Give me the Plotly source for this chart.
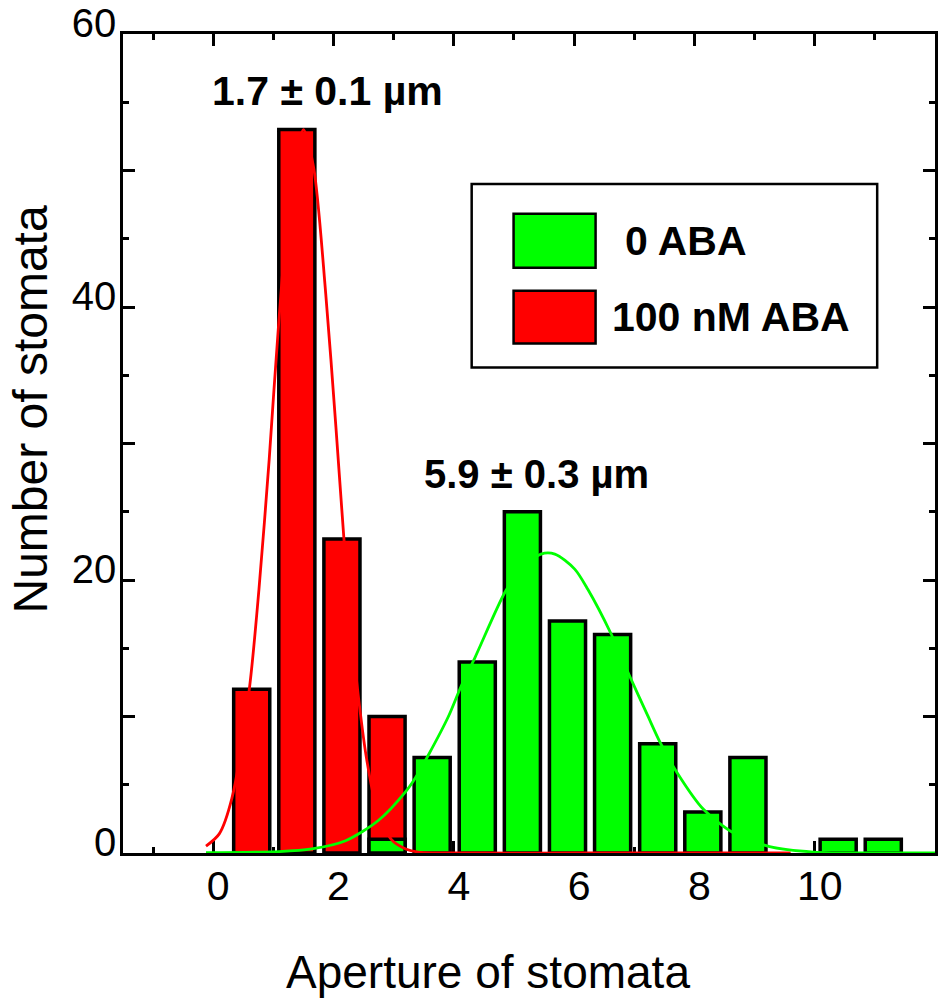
import plotly.graph_objects as go

# ---------------- data ----------------
bin_centers = [0.64, 1.39, 2.14, 2.89, 3.64, 4.39, 5.14, 5.89, 6.64, 7.39, 8.14, 8.89, 9.64, 10.39, 11.14]
red_counts = [12, 53, 23, 10, 0, 0, 0, 0, 0, 0, 0, 0, 0, 0, 0]
green_counts = [0, 0, 0, 1, 7, 14, 25, 17, 16, 8, 3, 7, 0, 1, 1]

red_fit_x = [-0.12, 0.10, 0.31, 0.60, 0.76, 0.93, 1.09, 1.30, 1.50, 1.67, 1.87, 2.04, 2.17, 2.30,
             2.45, 2.55, 2.70, 2.96, 3.20, 3.41, 4.5, 6.0, 8.0, 9.6]
red_fit_y = [0.5, 1.4, 4.0, 12.0, 19.3, 28.8, 38.9, 49.2, 53.0, 50.2, 41.0, 31.2, 23.2, 16.2,
             10.1, 6.9, 3.6, 1.0, 0.3, 0.07, 0, 0, 0, 0]

green_fit_x = [-0.12, 1.09, 1.64, 2.20, 2.75, 3.20, 3.36, 3.58, 3.91, 4.12, 4.35, 4.85, 5.10, 5.45,
               5.68, 6.01, 6.23, 6.61, 6.94, 7.22, 7.43, 7.71, 8.15, 8.66, 9.25, 9.98, 11.0, 12.0]
green_fit_y = [0.02, 0.1, 0.3, 0.9, 2.4, 4.5, 5.5, 7.2, 10.0, 12.2, 14.3, 19.1, 20.7, 21.9,
               21.9, 20.8, 19.3, 16.1, 12.8, 10.1, 8.1, 5.9, 3.2, 1.45, 0.47, 0.07, 0, 0]

series_names = ["0 ABA", "100 nM ABA"]
series_colors = ["#00FF00", "#FF0000"]
mean_labels = ["1.7 \u00b1 0.1 \u00b5m", "5.9 \u00b1 0.3 \u00b5m"]

x_tick_vals = [0, 2, 4, 6, 8, 10]
x_tick_text = ["0", "2", "4", "6", "8", "10"]
y_tick_vals = [0, 10, 20, 30, 40, 50, 60]
y_tick_text = ["0", "", "20", "", "40", "", "60"]

x_title = "Aperture of stomata"
y_title = "Number of stomata"

FONT = "Liberation Sans, Arial, sans-serif"

# ---------------- figure ----------------
fig = go.Figure()

rx = [x for x, c in zip(bin_centers, red_counts) if c > 0]
ry = [c for c in red_counts if c > 0]
gx = [x for x, c in zip(bin_centers, green_counts) if c > 0]
gy = [c for c in green_counts if c > 0]

fig.add_trace(go.Bar(x=rx, y=ry, width=0.6, name=series_names[1],
                     marker=dict(color=series_colors[1], line=dict(color="black", width=3.5))))
fig.add_trace(go.Bar(x=gx, y=gy, width=0.6, name=series_names[0],
                     marker=dict(color=series_colors[0], line=dict(color="black", width=3.5))))

fig.add_trace(go.Scatter(x=red_fit_x, y=red_fit_y, mode="lines",
                         line=dict(color=series_colors[1], width=2.8, shape="spline", smoothing=0.8),
                         hoverinfo="skip"))
fig.add_trace(go.Scatter(x=green_fit_x, y=green_fit_y, mode="lines",
                         line=dict(color=series_colors[0], width=2.8, shape="spline", smoothing=0.8),
                         hoverinfo="skip"))

fig.update_layout(
    width=939, height=1002,
    margin=dict(l=123, r=1, t=33, b=149),
    plot_bgcolor="white", paper_bgcolor="white",
    showlegend=False, barmode="overlay",
    font=dict(family=FONT, color="black"),
)

fig.update_xaxes(
    range=[-1.5, 12], showline=True, linecolor="black", linewidth=2.5, mirror="allticks",
    ticks="inside", ticklen=12, tickwidth=2.5, tickcolor="black",
    tickvals=x_tick_vals, ticktext=x_tick_text, tickfont=dict(size=41, family=FONT, color="black"),
    showgrid=False, zeroline=False, layer="below traces",
    minor=dict(ticks="inside", dtick=1, tick0=0, ticklen=6, tickwidth=2.5, tickcolor="black", showgrid=False),
    ticklabelstandoff=-5, ticklabelshift=5, ticklabeloverflow="allow",
)
fig.update_yaxes(
    range=[0, 60], showline=True, linecolor="black", linewidth=2.5, mirror="allticks",
    ticks="inside", ticklen=12, tickwidth=2.5, tickcolor="black",
    tickvals=y_tick_vals, ticktext=y_tick_text, tickfont=dict(size=40, family=FONT, color="black"),
    showgrid=False, zeroline=False,
    minor=dict(ticks="inside", dtick=5, tick0=0, ticklen=6, tickwidth=2.5, tickcolor="black", showgrid=False),
    ticklabelstandoff=-4, ticklabelshift=-11, ticklabeloverflow="allow",
)

# mean annotations
fig.add_annotation(x=1.90, y=55.8, xref="x", yref="y", text="<b>%s</b>" % mean_labels[0], showarrow=False,
                   font=dict(size=41, family=FONT, color="black"), xanchor="center", yanchor="middle")
fig.add_annotation(x=5.38, y=27.8, xref="x", yref="y", text="<b>%s</b>" % mean_labels[1], showarrow=False,
                   font=dict(size=40, family=FONT, color="black"), xanchor="center", yanchor="middle")

# axis titles
fig.add_annotation(x=0.450, y=-0.145, xref="paper", yref="paper", text=x_title, showarrow=False,
                   font=dict(size=46, family=FONT, color="black"), xanchor="center", yanchor="middle")
fig.add_annotation(x=-0.114, y=0.542, xref="paper", yref="paper", text=y_title, showarrow=False, textangle=-90,
                   font=dict(size=48, family=FONT, color="black"), xanchor="center", yanchor="middle")

# custom legend
fig.add_shape(type="rect", xref="paper", yref="paper", x0=0.4294, x1=0.9288, y0=0.5927, y1=0.817,
              line=dict(color="black", width=2.5), fillcolor="white", layer="above")
legend_rows = [(0.7146, 0.7805, 0.616, 0.7476), (0.622, 0.6866, 0.600, 0.655)]
for (y0, y1, tx, ty), name, col in zip(legend_rows, series_names, series_colors):
    fig.add_shape(type="rect", xref="paper", yref="paper", x0=0.481, x1=0.582, y0=y0, y1=y1,
                  line=dict(color="black", width=2.5), fillcolor=col, layer="above")
    fig.add_annotation(x=tx, y=ty, xref="paper", yref="paper", text="<b>%s</b>" % name, showarrow=False,
                       font=dict(size=41, family=FONT, color="black"), xanchor="left", yanchor="middle")

fig.write_html("out.html", config={"displayModeBar": False},
               post_script="document.body.style.margin='0px';document.body.style.overflow='hidden';")
